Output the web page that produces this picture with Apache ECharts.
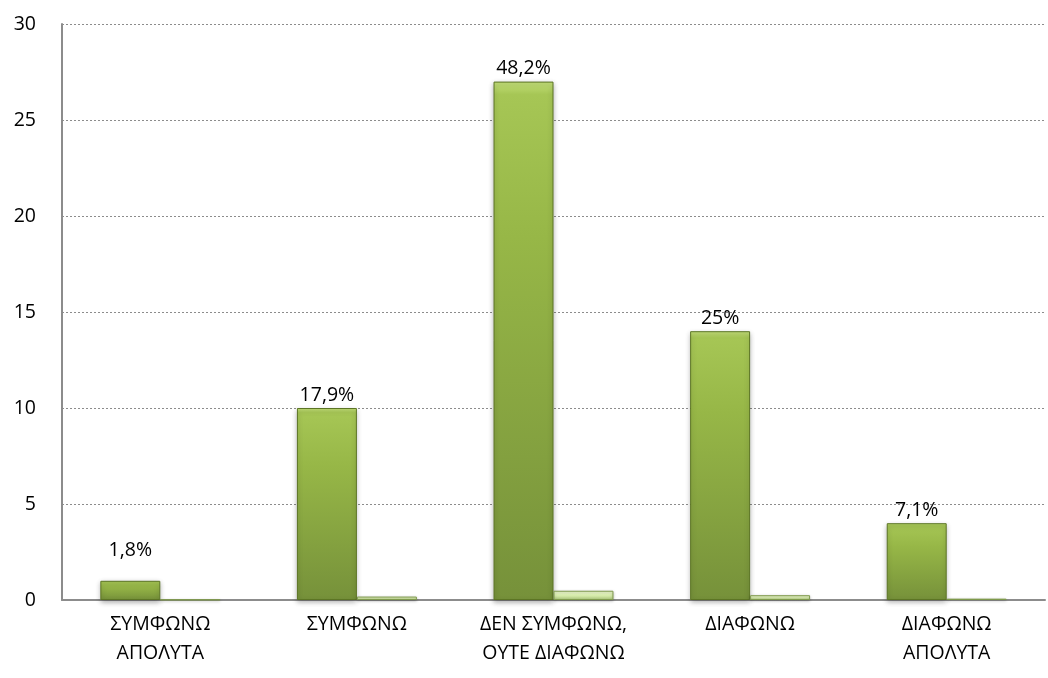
<!DOCTYPE html>
<html>
<head>
<meta charset="utf-8">
<script src="https://cdn.jsdelivr.net/npm/echarts@6/dist/echarts.min.js"></script>
<style>
  html, body { margin: 0; padding: 0; background: #fff; }
  #chart { width: 1048px; height: 678px; }
</style>
</head>
<body>
<div id="chart"></div>
<script>
// Survey answers: count of respondents and share (as a fraction) per answer
const categories = ['ΣΥΜΦΩΝΩ\nΑΠΟΛΥΤΑ', 'ΣΥΜΦΩΝΩ', 'ΔΕΝ ΣΥΜΦΩΝΩ,\nΟΥΤΕ ΔΙΑΦΩΝΩ', 'ΔΙΑΦΩΝΩ', 'ΔΙΑΦΩΝΩ\nΑΠΟΛΥΤΑ'];
const counts = [1, 10, 27, 14, 4];
const shares = [0.018, 0.179, 0.482, 0.25, 0.071];
const percentLabels = ['1,8%', '17,9%', '48,2%', '25%', '7,1%'];

const font = '"Open Sans", "Noto Sans", sans-serif';

// bevelled look: bright rim at the top, fading darker towards the base
const darkGreen = {
  type: 'linear', x: 0, y: 0, x2: 0, y2: 1,
  colorStops: [
    { offset: 0, color: '#c4e07a' },
    { offset: 0.025, color: '#a6c655' },
    { offset: 0.3, color: '#97b747' },
    { offset: 1, color: '#76913a' }
  ]
};
const lightGreen = {
  type: 'linear', x: 0, y: 0, x2: 0, y2: 1,
  colorStops: [
    { offset: 0, color: '#f2fbd6' },
    { offset: 0.5, color: '#d9eeae' },
    { offset: 1, color: '#a9c27a' }
  ]
};

const chart = echarts.init(document.getElementById('chart'));
chart.setOption({
  animation: false,
  backgroundColor: '#ffffff',
  grid: { left: 62, right: 3, top: 24, bottom: 78, containLabel: false },
  xAxis: {
    type: 'category',
    data: categories,
    axisLine: { lineStyle: { color: '#8c8c8c', width: 2 } },
    axisTick: { show: false },
    axisLabel: { color: '#000000', fontSize: 19.5, fontFamily: font, lineHeight: 29, margin: 10 }
  },
  yAxis: {
    type: 'value',
    min: 0, max: 30, interval: 5,
    axisLine: { show: true, lineStyle: { color: '#8c8c8c', width: 2 } },
    axisTick: { show: false },
    axisLabel: { color: '#000000', fontSize: 19.5, fontFamily: font, margin: 26 },
    splitLine: { lineStyle: { color: '#8c8c8c', type: [2, 2], width: 1 } }
  },
  series: [
    {
      name: 'count',
      type: 'bar',
      barGap: '0%',
      barCategoryGap: '39%',
      data: counts.map((v, i) => ({
        value: v,
        label: i === 0 ? { distance: 20 } : undefined
      })),
      itemStyle: {
        color: darkGreen,
        borderColor: '#5c7524',
        borderWidth: 1,
        shadowColor: 'rgba(0,0,0,0.3)',
        shadowBlur: 5,
        shadowOffsetY: 2
      },
      label: {
        show: true,
        position: 'top',
        distance: 3,
        color: '#000000',
        fontSize: 19.5,
        fontFamily: font,
        formatter: p => percentLabels[p.dataIndex]
      }
    },
    {
      name: 'share',
      type: 'bar',
      data: shares,
      itemStyle: {
        color: lightGreen,
        borderColor: '#7f9a4c',
        borderWidth: 1,
        shadowColor: 'rgba(0,0,0,0.25)',
        shadowBlur: 3,
        shadowOffsetY: 1
      }
    }
  ]
});
</script>
</body>
</html>
